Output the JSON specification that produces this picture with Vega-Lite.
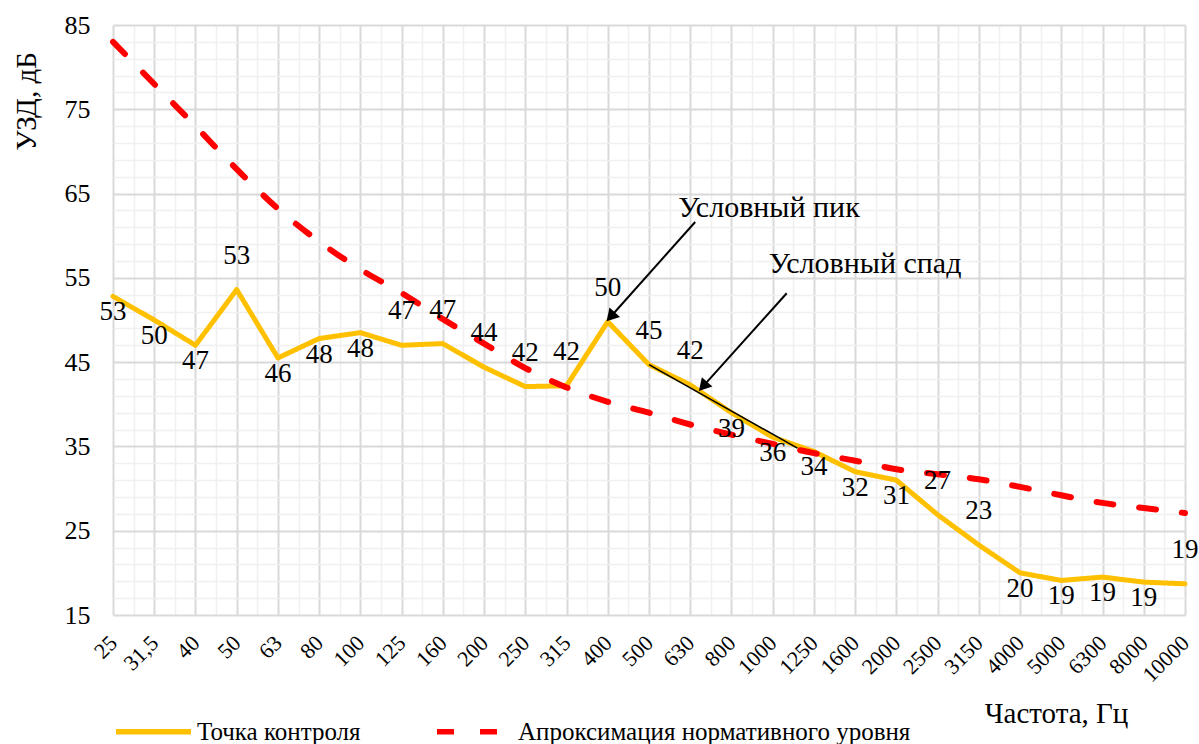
{
  "$schema": "https://vega.github.io/schema/vega-lite/v6.json",
  "width": 1072,
  "height": 590,
  "autosize": {"type": "none"},
  "padding": {"left": 113, "top": 25, "right": 14, "bottom": 129},
  "background": "#ffffff",
  "config": {
    "view": {"stroke": null},
    "font": "Liberation Serif",
    "text": {"font": "Liberation Serif", "color": "#000000"}
  },
  "datasets": {
    "measured": [
      {"idx": 0, "freq": "25", "value": 52.8, "label": "53", "pos": "below", "series": "Точка контроля"},
      {"idx": 1, "freq": "31,5", "value": 50.0, "label": "50", "pos": "below", "series": "Точка контроля"},
      {"idx": 2, "freq": "40", "value": 47.0, "label": "47", "pos": "below", "series": "Точка контроля"},
      {"idx": 3, "freq": "50", "value": 53.6, "label": "53", "pos": "above", "series": "Точка контроля"},
      {"idx": 4, "freq": "63", "value": 45.5, "label": "46", "pos": "below", "series": "Точка контроля"},
      {"idx": 5, "freq": "80", "value": 47.8, "label": "48", "pos": "below", "series": "Точка контроля"},
      {"idx": 6, "freq": "100", "value": 48.5, "label": "48", "pos": "below", "series": "Точка контроля"},
      {"idx": 7, "freq": "125", "value": 47.0, "label": "47", "pos": "above", "series": "Точка контроля"},
      {"idx": 8, "freq": "160", "value": 47.2, "label": "47", "pos": "above", "series": "Точка контроля"},
      {"idx": 9, "freq": "200", "value": 44.4, "label": "44", "pos": "above", "series": "Точка контроля"},
      {"idx": 10, "freq": "250", "value": 42.1, "label": "42", "pos": "above", "series": "Точка контроля"},
      {"idx": 11, "freq": "315", "value": 42.2, "label": "42", "pos": "above", "series": "Точка контроля"},
      {"idx": 12, "freq": "400", "value": 49.8, "label": "50", "pos": "above", "series": "Точка контроля"},
      {"idx": 13, "freq": "500", "value": 44.7, "label": "45", "pos": "above", "series": "Точка контроля"},
      {"idx": 14, "freq": "630", "value": 42.3, "label": "42", "pos": "above", "series": "Точка контроля"},
      {"idx": 15, "freq": "800", "value": 39.0, "label": "39", "pos": "below", "series": "Точка контроля"},
      {"idx": 16, "freq": "1000", "value": 36.1, "label": "36", "pos": "below", "series": "Точка контроля"},
      {"idx": 17, "freq": "1250", "value": 34.4, "label": "34", "pos": "below", "series": "Точка контроля"},
      {"idx": 18, "freq": "1600", "value": 32.0, "label": "32", "pos": "below", "series": "Точка контроля"},
      {"idx": 19, "freq": "2000", "value": 31.0, "label": "31", "pos": "below", "series": "Точка контроля"},
      {"idx": 20, "freq": "2500", "value": 26.9, "label": "27", "pos": "above", "series": "Точка контроля"},
      {"idx": 21, "freq": "3150", "value": 23.3, "label": "23", "pos": "above", "series": "Точка контроля"},
      {"idx": 22, "freq": "4000", "value": 20.0, "label": "20", "pos": "below", "series": "Точка контроля"},
      {"idx": 23, "freq": "5000", "value": 19.1, "label": "19", "pos": "below", "series": "Точка контроля"},
      {"idx": 24, "freq": "6300", "value": 19.5, "label": "19", "pos": "below", "series": "Точка контроля"},
      {"idx": 25, "freq": "8000", "value": 18.9, "label": "19", "pos": "below", "series": "Точка контроля"},
      {"idx": 26, "freq": "10000", "value": 18.7, "label": "19", "pos": "above", "series": "Точка контроля"}
    ],
    "norm": [
      {"idx": 0, "freq": "25", "value": 83.0, "series": "Апроксимация нормативного уровня"},
      {"idx": 1, "freq": "31,5", "value": 78.0, "series": "Апроксимация нормативного уровня"},
      {"idx": 2, "freq": "40", "value": 73.0, "series": "Апроксимация нормативного уровня"},
      {"idx": 3, "freq": "50", "value": 67.9, "series": "Апроксимация нормативного уровня"},
      {"idx": 4, "freq": "63", "value": 63.2, "series": "Апроксимация нормативного уровня"},
      {"idx": 5, "freq": "80", "value": 59.3, "series": "Апроксимация нормативного уровня"},
      {"idx": 6, "freq": "100", "value": 56.0, "series": "Апроксимация нормативного уровня"},
      {"idx": 7, "freq": "125", "value": 53.2, "series": "Апроксимация нормативного уровня"},
      {"idx": 8, "freq": "160", "value": 50.1, "series": "Апроксимация нормативного уровня"},
      {"idx": 9, "freq": "200", "value": 47.2, "series": "Апроксимация нормативного уровня"},
      {"idx": 10, "freq": "250", "value": 44.3, "series": "Апроксимация нормативного уровня"},
      {"idx": 11, "freq": "315", "value": 42.0, "series": "Апроксимация нормативного уровня"},
      {"idx": 12, "freq": "400", "value": 40.3, "series": "Апроксимация нормативного уровня"},
      {"idx": 13, "freq": "500", "value": 39.0, "series": "Апроксимация нормативного уровня"},
      {"idx": 14, "freq": "630", "value": 37.6, "series": "Апроксимация нормативного уровня"},
      {"idx": 15, "freq": "800", "value": 36.4, "series": "Апроксимация нормативного уровня"},
      {"idx": 16, "freq": "1000", "value": 35.3, "series": "Апроксимация нормативного уровня"},
      {"idx": 17, "freq": "1250", "value": 34.2, "series": "Апроксимация нормативного уровня"},
      {"idx": 18, "freq": "1600", "value": 33.3, "series": "Апроксимация нормативного уровня"},
      {"idx": 19, "freq": "2000", "value": 32.3, "series": "Апроксимация нормативного уровня"},
      {"idx": 20, "freq": "2500", "value": 31.7, "series": "Апроксимация нормативного уровня"},
      {"idx": 21, "freq": "3150", "value": 31.1, "series": "Апроксимация нормативного уровня"},
      {"idx": 22, "freq": "4000", "value": 30.2, "series": "Апроксимация нормативного уровня"},
      {"idx": 23, "freq": "5000", "value": 29.2, "series": "Апроксимация нормативного уровня"},
      {"idx": 24, "freq": "6300", "value": 28.3, "series": "Апроксимация нормативного уровня"},
      {"idx": 25, "freq": "8000", "value": 27.7, "series": "Апроксимация нормативного уровня"},
      {"idx": 26, "freq": "10000", "value": 27.1, "series": "Апроксимация нормативного уровня"}
    ],
    "bounds": [
      {"idx": 11, "freq": "315"},
      {"idx": 13, "freq": "500"}
    ],
    "trend": [
      {"idx": 13, "value": 44.7},
      {"idx": 16.6, "value": 34.8}
    ],
    "arrows": [
      {"idx": 14.12, "value": 61.63, "idx2": 12.07, "value2": 50.39},
      {"idx": 16.34, "value": 53.17, "idx2": 14.31, "value2": 42.12}
    ],
    "notes": [
      {"idx": 15.91, "value": 63.3, "text": "Условный пик"},
      {"idx": 18.24, "value": 56.6, "text": "Условный спад"}
    ]
  },
  "encoding": {
    "x": {
      "field": "idx",
      "type": "quantitative",
      "scale": {"domain": [0, 26], "nice": false, "zero": false},
      "axis": {
        "title": "Частота, Гц",
        "titleFont": "Liberation Serif",
        "titleFontSize": 29,
        "titleFontWeight": "normal",
        "titleColor": "#000000",
        "titleX": 943,
        "titleY": 98,
        "titleAlign": "center",
        "titleBaseline": "middle",
        "values": [0,0.5,1,1.5,2,2.5,3,3.5,4,4.5,5,5.5,6,6.5,7,7.5,8,8.5,9,9.5,10,10.5,11,11.5,12,12.5,13,13.5,14,14.5,15,15.5,16,16.5,17,17.5,18,18.5,19,19.5,20,20.5,21,21.5,22,22.5,23,23.5,24,24.5,25,25.5,26],
        "labelExpr": "datum.value % 1 === 0 ? ['25','31,5','40','50','63','80','100','125','160','200','250','315','400','500','630','800','1000','1250','1600','2000','2500','3150','4000','5000','6300','8000','10000'][datum.value] : ''",
        "labelAngle": -45,
        "labelAlign": "right",
        "labelBaseline": "middle",
        "labelPadding": 24,
        "labelFont": "Liberation Serif",
        "labelFontSize": 22,
        "labelColor": "#000000",
        "labelOverlap": false,
        "labelFlush": false,
        "labelBound": false,
        "ticks": false,
        "domain": false,
        "grid": true,
        "gridColor": {"condition": {"test": "datum.value % 1 === 0", "value": "#D9D9D9"}, "value": "#F0F0F0"},
        "gridWidth": {"condition": {"test": "datum.value % 1 === 0", "value": 2}, "value": 1.5}
      }
    },
    "y": {
      "field": "value",
      "type": "quantitative",
      "scale": {"domain": [15, 85], "nice": false, "zero": false},
      "axis": {
        "title": "УЗД, дБ",
        "titleFont": "Liberation Serif",
        "titleFontSize": 29,
        "titleFontWeight": "normal",
        "titleColor": "#000000",
        "titleAngle": -90,
        "titleX": -87,
        "titleY": 76,
        "titleAlign": "center",
        "titleBaseline": "middle",
        "values": [15,17,19,21,23,25,27,29,31,33,35,37,39,41,43,45,47,49,51,53,55,57,59,61,63,65,67,69,71,73,75,77,79,81,83,85],
        "labelExpr": "(datum.value - 15) % 10 === 0 ? datum.value : ''",
        "labelPadding": 23,
        "labelFont": "Liberation Serif",
        "labelFontSize": 26,
        "labelColor": "#000000",
        "labelOverlap": false,
        "labelFlush": false,
        "labelBound": false,
        "ticks": false,
        "domain": false,
        "grid": true,
        "gridColor": {"condition": {"test": "(datum.value - 15) % 10 === 0", "value": "#D9D9D9"}, "value": "#F0F0F0"},
        "gridWidth": {"condition": {"test": "(datum.value - 15) % 10 === 0", "value": 2}, "value": 1.5}
      }
    }
  },
  "layer": [
    {
      "data": {"name": "bounds"},
      "mark": {"type": "rule", "color": "#5B7DA8", "strokeWidth": 2},
      "encoding": {
        "y": {"datum": 85, "type": "quantitative"},
        "y2": {"datum": 14.4}
      }
    },
    {
      "data": {"name": "measured"},
      "mark": {"type": "line", "strokeWidth": 5, "strokeJoin": "round", "strokeCap": "round"},
      "encoding": {
        "color": {
          "field": "series",
          "type": "nominal",
          "scale": {"domain": ["Точка контроля", "Апроксимация нормативного уровня"], "range": ["#FFC000", "#FF0000"]},
          "legend": {
            "title": null,
            "orient": "none",
            "legendX": 0,
            "legendY": 666,
            "direction": "horizontal",
            "symbolType": "stroke",
            "symbolSize": 5625,
            "symbolStrokeWidth": 5.5,
            "labelFont": "Liberation Serif",
            "labelFontSize": 25,
            "labelColor": "#000000",
            "labelOffset": 3,
            "columnPadding": 65,
            "padding": 0,
            "labelLimit": 600
          }
        },
        "strokeDash": {
          "field": "series",
          "type": "nominal",
          "scale": {"domain": ["Точка контроля", "Апроксимация нормативного уровня"], "range": [[1, 0], [17, 26]]},
          "legend": {
            "title": null,
            "orient": "none",
            "legendX": 0,
            "legendY": 666,
            "direction": "horizontal",
            "symbolType": "stroke",
            "symbolSize": 5625,
            "symbolStrokeWidth": 5.5,
            "labelFont": "Liberation Serif",
            "labelFontSize": 25,
            "labelColor": "#000000",
            "labelOffset": 3,
            "columnPadding": 65,
            "padding": 0,
            "labelLimit": 600
          }
        }
      }
    },
    {
      "data": {"name": "norm"},
      "mark": {"type": "line", "strokeWidth": 6, "strokeCap": "round", "interpolate": "monotone"},
      "encoding": {
        "color": {"field": "series", "type": "nominal"},
        "strokeDash": {"field": "series", "type": "nominal"}
      }
    },
    {
      "data": {"name": "trend"},
      "mark": {"type": "line", "color": "#000000", "strokeWidth": 1.6},
      "encoding": {}
    },
    {
      "data": {"name": "measured"},
      "transform": [{"filter": "datum.pos === 'above'"}],
      "mark": {"type": "text", "font": "Liberation Serif", "fontSize": 27, "color": "#000000", "baseline": "middle", "align": "center", "dy": -34},
      "encoding": {"text": {"field": "label"}}
    },
    {
      "data": {"name": "measured"},
      "transform": [{"filter": "datum.pos === 'below'"}],
      "mark": {"type": "text", "font": "Liberation Serif", "fontSize": 27, "color": "#000000", "baseline": "middle", "align": "center", "dy": 16},
      "encoding": {"text": {"field": "label"}}
    },
    {
      "data": {"name": "arrows"},
      "mark": {"type": "rule", "color": "#000000", "strokeWidth": 2},
      "encoding": {
        "x2": {"field": "idx2"},
        "y2": {"field": "value2"}
      }
    },
    {
      "data": {"name": "arrows"},
      "mark": {"type": "point", "shape": "triangle-up", "filled": true, "color": "#000000", "size": 200, "angle": 222, "opacity": 1},
      "encoding": {
        "x": {"field": "idx2", "type": "quantitative"},
        "y": {"field": "value2", "type": "quantitative"}
      }
    },
    {
      "data": {"name": "notes"},
      "mark": {"type": "text", "font": "Liberation Serif", "fontSize": 30, "color": "#000000", "baseline": "middle", "align": "center"},
      "encoding": {"text": {"field": "text"}}
    }
  ]
}
